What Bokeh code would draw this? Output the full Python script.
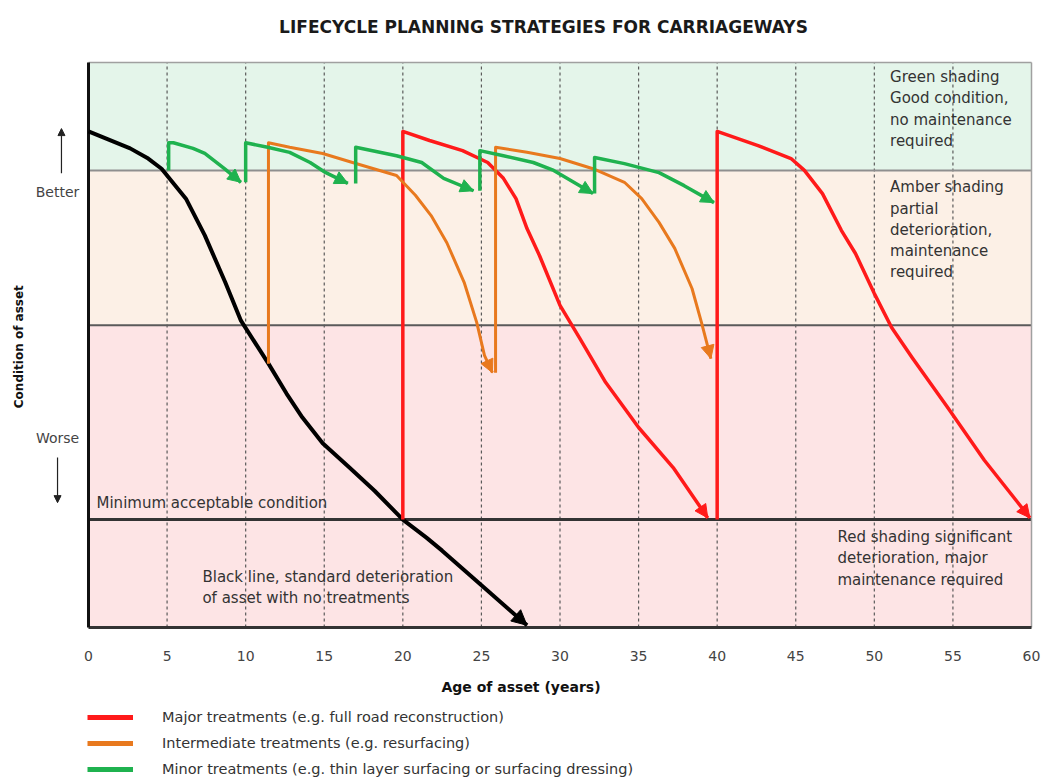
from bokeh.plotting import figure
from bokeh.layouts import column
from bokeh.models import Range1d, Label, Arrow, NormalHead, Legend, LegendItem
from bokeh.embed import file_html
from bokeh.resources import INLINE

FONT = "DejaVu Sans"

# ---------------- data ----------------
title_text = "LIFECYCLE PLANNING STRATEGIES FOR CARRIAGEWAYS"
x_label = "Age of asset (years)"
y_label = "Condition of asset"
x_ticks = [0, 5, 10, 15, 20, 25, 30, 35, 40, 45, 50, 55, 60]
grid_years = [5, 10, 15, 20, 25, 30, 35, 40, 45, 50, 55]

# condition scale 0 (worst) .. 100 (best)
band_top = [100, 80.9, 53.5]
band_bottom = [80.9, 53.5, 0]
band_colors = ["#e4f5ea", "#fcf0e6", "#fde4e5"]
zone_thresholds = [80.9, 53.5]
min_condition = 19.1

black_x = [0, 2.65, 3.8, 4.65, 6.2, 7.4, 8.7, 9.7, 11.45, 12.6, 13.6, 14.9, 16.6, 18.2, 20.0, 21.5, 22.5, 25.4, 27.9]
black_y = [87.8, 84.8, 83.0, 81.2, 75.9, 69.4, 61.1, 54.3, 46.7, 41.4, 37.2, 32.6, 28.3, 24.2, 19.1, 15.9, 13.6, 6.5, 0.4]

red_x_1 = [20, 20, 21.7, 23.8, 25.4, 26.4, 27.2, 27.9, 28.7, 30.0, 31.25, 32.9, 35.0, 37.2, 39.4]
red_y_1 = [19.1, 87.8, 86.2, 84.4, 82.3, 79.5, 75.9, 70.6, 65.8, 57.0, 51.2, 43.4, 35.4, 28.3, 19.4]
red_x_2 = [40, 40, 42.6, 44.7, 45.55, 46.7, 47.9, 48.8, 50.0, 51.1, 52.4, 54.7, 57.0, 59.9]
red_y_2 = [19.1, 87.8, 85.3, 83.0, 80.9, 76.8, 70.3, 66.2, 59.1, 53.1, 47.8, 38.8, 29.6, 19.4]

orange_x_1 = [11.45, 11.45, 12.8, 14.9, 16.8, 19.6, 20.8, 21.8, 22.8, 23.9, 24.7, 25.2, 25.7]
orange_y_1 = [46.7, 85.8, 85.0, 83.9, 82.3, 80.0, 76.5, 72.9, 68.1, 61.1, 54.0, 48.1, 45.1]
orange_x_2 = [25.9, 25.9, 27.9, 30.0, 32.1, 34.1, 35.2, 36.3, 37.3, 38.4, 39.0, 39.6]
orange_y_2 = [45.1, 85.0, 84.1, 83.0, 81.2, 78.8, 75.9, 71.7, 67.1, 60.0, 54.0, 47.6]

green_x_1 = [5.1, 5.1, 5.4, 6.65, 7.4, 8.65, 9.7]
green_y_1 = [80.9, 85.8, 85.8, 84.8, 83.9, 81.2, 78.8]
green_x_2 = [10.0, 10.0, 11.4, 12.8, 14.1, 15.1, 16.5]
green_y_2 = [78.8, 85.8, 85.0, 84.1, 82.3, 80.5, 78.6]
green_x_3 = [17.0, 17.0, 19.6, 21.2, 22.6, 24.5]
green_y_3 = [78.6, 85.0, 83.5, 82.3, 79.5, 77.3]
green_x_4 = [24.9, 24.9, 26.4, 28.3, 29.6, 32.1]
green_y_4 = [77.3, 84.4, 83.5, 82.3, 80.9, 76.8]
green_x_5 = [32.2, 32.2, 34.1, 36.3, 37.9, 39.8]
green_y_5 = [76.8, 83.2, 82.1, 80.5, 78.2, 75.2]

legend_labels = [
    "Major treatments (e.g. full road reconstruction)",
    "Intermediate treatments (e.g. resurfacing)",
    "Minor treatments (e.g. thin layer surfacing or surfacing dressing)",
]

RED = "#ff1a1a"
ORANGE = "#e8791e"
GREEN = "#1fb24f"
BLACK = "#000000"

X0, X1 = x_ticks[0], x_ticks[-1]
Y0, Y1 = band_bottom[-1], band_top[0]

# ---------------- chart figure ----------------
p = figure(width=1041, height=705, x_range=Range1d(-5.599, 60.636), y_range=Range1d(-0.531, 110.973),
           output_backend="svg", toolbar_location=None, y_axis_location=None,
           min_border_left=0, min_border_right=0, min_border_top=0, min_border_bottom=75)
p.background_fill_color = "white"
p.border_fill_color = "white"
p.outline_line_color = None
p.xgrid.visible = False
p.ygrid.visible = False

# x axis (tick labels + title only; border drawn below)
p.xaxis.ticker = x_ticks
p.xaxis.axis_label = x_label
p.xaxis.axis_line_color = None
p.xaxis.major_tick_line_color = None
p.xaxis.minor_tick_line_color = None
p.xaxis.major_tick_out = 0
p.xaxis.major_tick_in = 0
p.xaxis.major_label_standoff = 20
p.xaxis.major_label_text_font = FONT
p.xaxis.major_label_text_font_size = "14px"
p.xaxis.major_label_text_color = "#444444"
p.xaxis.axis_label_standoff = 15
p.xaxis.axis_label_text_font = FONT
p.xaxis.axis_label_text_font_style = "bold"
p.xaxis.axis_label_text_font_size = "14px"
p.xaxis.axis_label_text_color = "#111111"

# bands, grid, thresholds
p.quad(left=X0, right=X1, top=band_top, bottom=band_bottom, fill_color=band_colors, line_color=None)
p.segment(x0=grid_years, y0=Y0, x1=grid_years, y1=Y1, line_color="#5a5a5a", line_dash="3 3", line_width=1.2)
p.segment(x0=X0, y0=zone_thresholds, x1=X1, y1=zone_thresholds, line_color=["#8f8f8f", "#5a5a5a"], line_width=2)
p.segment(x0=X0, y0=min_condition, x1=X1, y1=min_condition, line_color="#333333", line_width=3)
# frame borders
p.segment(x0=X0, y0=Y1, x1=X1, y1=Y1, line_color="#a0a0a0", line_width=1.5)
p.segment(x0=X1, y0=Y0, x1=X1, y1=Y1, line_color="#a0a0a0", line_width=1.5)
p.segment(x0=X0, y0=Y0, x1=X1, y1=Y0, line_color="#333333", line_width=3)
p.segment(x0=X0, y0=Y0, x1=X0, y1=Y1, line_color="#111111", line_width=3)

# curves
p.line(black_x, black_y, line_color=BLACK, line_width=4, line_join="round")
red_xs = [red_x_1, red_x_2]
red_ys = [red_y_1, red_y_2]
orange_xs = [orange_x_1, orange_x_2]
orange_ys = [orange_y_1, orange_y_2]
green_xs = [green_x_1, green_x_2, green_x_3, green_x_4, green_x_5]
green_ys = [green_y_1, green_y_2, green_y_3, green_y_4, green_y_5]
p.multi_line(xs=red_xs, ys=red_ys, line_color=RED, line_width=3.5, line_join="round")
p.multi_line(xs=orange_xs, ys=orange_ys, line_color=ORANGE, line_width=3, line_join="round")
p.multi_line(xs=green_xs, ys=green_ys, line_color=GREEN, line_width=3.5, line_join="round")


def add_head(xs, ys, color, size=13):
    p.add_layout(Arrow(end=NormalHead(size=size, fill_color=color, line_color=color, line_width=1),
                       x_start=xs[-2], y_start=ys[-2], x_end=xs[-1], y_end=ys[-1],
                       line_color=color, line_width=1))


add_head(black_x, black_y, BLACK, 15)
for xs, ys in zip(red_xs, red_ys):
    add_head(xs, ys, RED)
for xs, ys in zip(orange_xs, orange_ys):
    add_head(xs, ys, ORANGE)
for xs, ys in zip(green_xs, green_ys):
    add_head(xs, ys, GREEN)

# better / worse arrows
p.add_layout(Arrow(end=NormalHead(size=7, fill_color="#222222", line_color="#222222"),
                   x_start=-1.72, y_start=80.4, x_end=-1.72, y_end=88.3,
                   line_color="#222222", line_width=1.2))
p.add_layout(Arrow(end=NormalHead(size=7, fill_color="#222222", line_color="#222222"),
                   x_start=-1.97, y_start=30.1, x_end=-1.97, y_end=22.1,
                   line_color="#222222", line_width=1.2))


def lab(x, y, text, size="15px", align="left", baseline="top", color="#333333", style="normal", angle=0):
    p.add_layout(Label(x=x, y=y, text=text, text_font=FONT, text_font_size=size,
                       text_align=align, text_baseline=baseline, text_color=color,
                       text_font_style=style, angle=angle, angle_units="deg",
                       text_line_height=1.18))


lab(28.95, 106.2, title_text, size="17px", align="center", baseline="middle", color="#1a1a1a", style="bold")
lab(-4.45, 49.7, y_label, size="12px", align="center", baseline="middle", color="#111111", style="bold", angle=90)
lab(-1.97, 77.0, "Better", size="14px", align="center", baseline="middle", color="#444444")
lab(-1.97, 33.5, "Worse", size="14px", align="center", baseline="middle", color="#444444")
lab(51.0, 99.0, "Green shading\nGood condition,\nno maintenance\nrequired")
lab(51.0, 79.5, "Amber shading\npartial\ndeterioration,\nmaintenance\nrequired")
lab(47.65, 17.6, "Red shading significant\ndeterioration, major\nmaintenance required")
lab(0.51, 22.1, "Minimum acceptable condition", baseline="middle")
lab(7.25, 10.6, "Black line, standard deterioration\nof asset with no treatments")

# ---------------- legend strip ----------------
q = figure(width=1041, height=73, x_range=Range1d(0, 1), y_range=Range1d(0, 1),
           output_backend="svg", toolbar_location=None, x_axis_location=None, y_axis_location=None,
           min_border_left=0, min_border_right=0, min_border_top=0, min_border_bottom=0)
q.outline_line_color = None
q.xgrid.visible = False
q.ygrid.visible = False
# off-range proxy renderers (only their legend swatches are visible)
r_red = q.line([-3, -2], [-3, -3], line_color=RED, line_width=5)
r_orange = q.line([-3, -2], [-3, -3], line_color=ORANGE, line_width=5)
r_green = q.line([-3, -2], [-3, -3], line_color=GREEN, line_width=5)
legend = Legend(items=[LegendItem(label=legend_labels[0], renderers=[r_red]),
                       LegendItem(label=legend_labels[1], renderers=[r_orange]),
                       LegendItem(label=legend_labels[2], renderers=[r_green])],
                location=(87, 1), padding=0, margin=0, spacing=10,
                glyph_width=46, glyph_height=16, label_height=16, label_standoff=29,
                label_text_font=FONT, label_text_font_size="14.5px", label_text_color="#333333",
                background_fill_alpha=0, border_line_alpha=0)
q.add_layout(legend)

layout = column(p, q, spacing=0)
open("out.html", "w").write(file_html(layout, INLINE))
